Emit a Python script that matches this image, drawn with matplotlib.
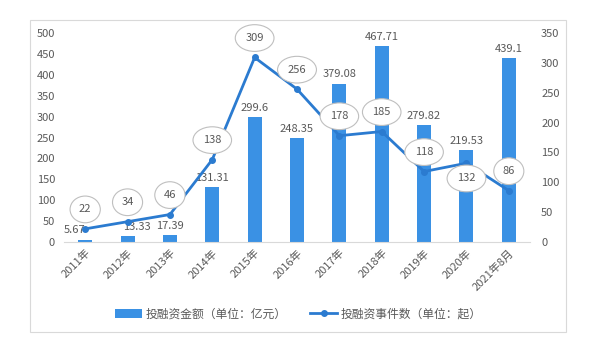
import matplotlib
matplotlib.use("Agg")
import matplotlib.pyplot as plt
from matplotlib.patches import Rectangle

plt.rcParams['font.family'] = ['Noto Sans CJK SC', 'DejaVu Sans']

# data
years = ["2011年", "2012年", "2013年", "2014年", "2015年", "2016年",
         "2017年", "2018年", "2019年", "2020年", "2021年8月"]
amount = [5.67, 13.33, 17.39, 131.31, 299.6, 248.35, 379.08, 467.71, 279.82, 219.53, 439.1]
events = [22, 34, 46, 138, 309, 256, 178, 185, 118, 132, 86]

bar_color = "#3a91e4"
line_color = "#2b7bd0"
text_color = "#595959"

fig = plt.figure(figsize=(5.93, 3.53), dpi=100)
fig.patches.append(Rectangle((30 / 593, 1 - 332 / 353), 536 / 593, 312 / 353,
                             transform=fig.transFigure, fill=False,
                             edgecolor="#d9d9d9", linewidth=0.8))

ax = fig.add_axes([64 / 593, 1 - 242 / 353, 466 / 593, 209 / 353])
x = list(range(len(years)))
bars = ax.bar(x, amount, width=0.33, color=bar_color, zorder=2)
ax.set_ylim(0, 500)
ax.set_yticks(range(0, 501, 50))
ax.set_xlim(-0.5, len(years) - 0.5)
ax.set_xticks(x)
ax.set_xticklabels(years, rotation=45, ha="right", rotation_mode="anchor")
for s in ["top", "right", "left"]:
    ax.spines[s].set_visible(False)
ax.spines["bottom"].set_color("#d9d9d9")
ax.tick_params(axis="both", length=0, labelsize=8, colors=text_color)
ax.tick_params(axis="y", pad=6.5)
ax.tick_params(axis="x", pad=4)

# a few amount labels sit off-centre in the original
nudge = {0: -8, 1: 6.5}
for xi, v in zip(x, amount):
    ax.annotate(f"{v:g}", (xi, v), xytext=(nudge.get(xi, 0), 3), textcoords="offset points",
                ha="center", va="bottom", fontsize=8, color=text_color, zorder=3)

ax2 = ax.twinx()
line, = ax2.plot(x, events, color=line_color, linewidth=2, marker="o", markersize=4, zorder=4)
ax2.set_ylim(0, 350)
ax2.set_yticks(range(0, 351, 50))
for s in ["top", "right", "left", "bottom"]:
    ax2.spines[s].set_visible(False)
ax2.tick_params(axis="y", length=0, labelsize=8, colors=text_color, pad=8)

for xi, v in zip(x, events):
    dy = -11 if xi == 9 else 14
    ax2.annotate(str(v), (xi, v), xytext=(0, dy), textcoords="offset points",
                 ha="center", va="center", fontsize=8, color=text_color, zorder=5,
                 bbox=dict(boxstyle="ellipse,pad=0.4", fc="white", ec="#bfbfbf", lw=0.8))

fig.legend([bars, line], ["投融资金额（单位：亿元）", "投融资事件数（单位：起）"],
           loc="center", bbox_to_anchor=(0.503, 1 - 314 / 353), ncol=2, frameon=False,
           fontsize=8.5, labelcolor=text_color, columnspacing=2, handlelength=2.3,
           handletextpad=0.3)

fig.savefig("out.png", dpi=100)
